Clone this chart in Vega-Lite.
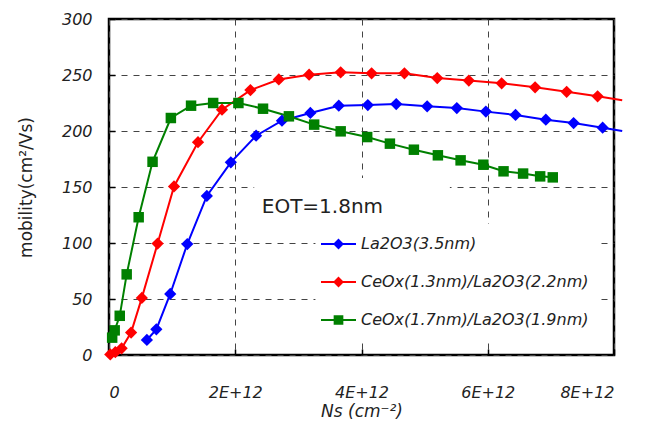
{
  "$schema": "https://vega.github.io/schema/vega-lite/v6.json",
  "width": 505,
  "height": 336,
  "autosize": {"type": "none"},
  "padding": {"left": 109, "top": 19, "right": 42, "bottom": 70},
  "background": "white",
  "config": {
    "view": {"stroke": "#000", "strokeWidth": 2.5},
    "font": "DejaVu Sans",
    "axis": {
      "grid": true, "gridColor": "#444", "gridDash": [6, 6], "gridWidth": 1,
      "domain": false, "tickColor": "#000", "tickSize": -6, "tickWidth": 1.5,
      "labelFont": "DejaVu Sans", "labelFontStyle": "italic", "labelFontSize": 16, "labelColor": "#222",
      "titleFont": "DejaVu Sans", "titleFontWeight": "normal", "titleColor": "#222", "titleFontSize": 17
    },
    "legend": {
      "orient": "none", "legendX": 211, "legendY": 206.5, "title": null, "padding": 0,
      "symbolSize": 1225, "labelFontSize": 16, "labelFontStyle": "italic", "labelFont": "DejaVu Sans", "labelColor": "#222",
      "labelOffset": 4, "rowPadding": 11, "labelLimit": 400, "symbolStrokeWidth": 2
    }
  },
  "datasets": {
    "mob": [
      {"series": "La2O3(3.5nm)", "ns": 0.60e12, "mobility": 13.4},
      {"series": "La2O3(3.5nm)", "ns": 0.75e12, "mobility": 22.9},
      {"series": "La2O3(3.5nm)", "ns": 0.97e12, "mobility": 54.5},
      {"series": "La2O3(3.5nm)", "ns": 1.24e12, "mobility": 99.1},
      {"series": "La2O3(3.5nm)", "ns": 1.55e12, "mobility": 142},
      {"series": "La2O3(3.5nm)", "ns": 1.93e12, "mobility": 172},
      {"series": "La2O3(3.5nm)", "ns": 2.33e12, "mobility": 195.8},
      {"series": "La2O3(3.5nm)", "ns": 2.74e12, "mobility": 209.2},
      {"series": "La2O3(3.5nm)", "ns": 3.19e12, "mobility": 216.1},
      {"series": "La2O3(3.5nm)", "ns": 3.64e12, "mobility": 222.6},
      {"series": "La2O3(3.5nm)", "ns": 4.10e12, "mobility": 223.2},
      {"series": "La2O3(3.5nm)", "ns": 4.55e12, "mobility": 224.1},
      {"series": "La2O3(3.5nm)", "ns": 5.04e12, "mobility": 222},
      {"series": "La2O3(3.5nm)", "ns": 5.51e12, "mobility": 220.5},
      {"series": "La2O3(3.5nm)", "ns": 5.97e12, "mobility": 217.3},
      {"series": "La2O3(3.5nm)", "ns": 6.44e12, "mobility": 214.3},
      {"series": "La2O3(3.5nm)", "ns": 6.92e12, "mobility": 210.1},
      {"series": "La2O3(3.5nm)", "ns": 7.36e12, "mobility": 207.1},
      {"series": "La2O3(3.5nm)", "ns": 7.82e12, "mobility": 203},
      {"series": "La2O3(3.5nm)", "ns": 8.13e12, "mobility": 200},
      {"series": "CeOx(1.3nm)/La2O3(2.2nm)", "ns": 0.02e12, "mobility": 0.5},
      {"series": "CeOx(1.3nm)/La2O3(2.2nm)", "ns": 0.10e12, "mobility": 2.5},
      {"series": "CeOx(1.3nm)/La2O3(2.2nm)", "ns": 0.20e12, "mobility": 6},
      {"series": "CeOx(1.3nm)/La2O3(2.2nm)", "ns": 0.35e12, "mobility": 20},
      {"series": "CeOx(1.3nm)/La2O3(2.2nm)", "ns": 0.52e12, "mobility": 51},
      {"series": "CeOx(1.3nm)/La2O3(2.2nm)", "ns": 0.77e12, "mobility": 99.5},
      {"series": "CeOx(1.3nm)/La2O3(2.2nm)", "ns": 1.03e12, "mobility": 150.5},
      {"series": "CeOx(1.3nm)/La2O3(2.2nm)", "ns": 1.41e12, "mobility": 190},
      {"series": "CeOx(1.3nm)/La2O3(2.2nm)", "ns": 1.79e12, "mobility": 219},
      {"series": "CeOx(1.3nm)/La2O3(2.2nm)", "ns": 2.24e12, "mobility": 236.5},
      {"series": "CeOx(1.3nm)/La2O3(2.2nm)", "ns": 2.69e12, "mobility": 246},
      {"series": "CeOx(1.3nm)/La2O3(2.2nm)", "ns": 3.17e12, "mobility": 250.3},
      {"series": "CeOx(1.3nm)/La2O3(2.2nm)", "ns": 3.67e12, "mobility": 252.4},
      {"series": "CeOx(1.3nm)/La2O3(2.2nm)", "ns": 4.16e12, "mobility": 251.5},
      {"series": "CeOx(1.3nm)/La2O3(2.2nm)", "ns": 4.68e12, "mobility": 251.5},
      {"series": "CeOx(1.3nm)/La2O3(2.2nm)", "ns": 5.20e12, "mobility": 247.3},
      {"series": "CeOx(1.3nm)/La2O3(2.2nm)", "ns": 5.70e12, "mobility": 245},
      {"series": "CeOx(1.3nm)/La2O3(2.2nm)", "ns": 6.22e12, "mobility": 242.6},
      {"series": "CeOx(1.3nm)/La2O3(2.2nm)", "ns": 6.75e12, "mobility": 239},
      {"series": "CeOx(1.3nm)/La2O3(2.2nm)", "ns": 7.25e12, "mobility": 235},
      {"series": "CeOx(1.3nm)/La2O3(2.2nm)", "ns": 7.74e12, "mobility": 231},
      {"series": "CeOx(1.3nm)/La2O3(2.2nm)", "ns": 8.13e12, "mobility": 227.5},
      {"series": "CeOx(1.7nm)/La2O3(1.9nm)", "ns": 0.05e12, "mobility": 15.5},
      {"series": "CeOx(1.7nm)/La2O3(1.9nm)", "ns": 0.09e12, "mobility": 22},
      {"series": "CeOx(1.7nm)/La2O3(1.9nm)", "ns": 0.17e12, "mobility": 35},
      {"series": "CeOx(1.7nm)/La2O3(1.9nm)", "ns": 0.28e12, "mobility": 72},
      {"series": "CeOx(1.7nm)/La2O3(1.9nm)", "ns": 0.47e12, "mobility": 123},
      {"series": "CeOx(1.7nm)/La2O3(1.9nm)", "ns": 0.69e12, "mobility": 172.5},
      {"series": "CeOx(1.7nm)/La2O3(1.9nm)", "ns": 0.98e12, "mobility": 211.6},
      {"series": "CeOx(1.7nm)/La2O3(1.9nm)", "ns": 1.30e12, "mobility": 222.6},
      {"series": "CeOx(1.7nm)/La2O3(1.9nm)", "ns": 1.65e12, "mobility": 225},
      {"series": "CeOx(1.7nm)/La2O3(1.9nm)", "ns": 2.05e12, "mobility": 225},
      {"series": "CeOx(1.7nm)/La2O3(1.9nm)", "ns": 2.44e12, "mobility": 219.9},
      {"series": "CeOx(1.7nm)/La2O3(1.9nm)", "ns": 2.85e12, "mobility": 213.1},
      {"series": "CeOx(1.7nm)/La2O3(1.9nm)", "ns": 3.25e12, "mobility": 205.7},
      {"series": "CeOx(1.7nm)/La2O3(1.9nm)", "ns": 3.67e12, "mobility": 199.7},
      {"series": "CeOx(1.7nm)/La2O3(1.9nm)", "ns": 4.09e12, "mobility": 194.6},
      {"series": "CeOx(1.7nm)/La2O3(1.9nm)", "ns": 4.45e12, "mobility": 188.7},
      {"series": "CeOx(1.7nm)/La2O3(1.9nm)", "ns": 4.83e12, "mobility": 183.3},
      {"series": "CeOx(1.7nm)/La2O3(1.9nm)", "ns": 5.21e12, "mobility": 178.3},
      {"series": "CeOx(1.7nm)/La2O3(1.9nm)", "ns": 5.57e12, "mobility": 173.8},
      {"series": "CeOx(1.7nm)/La2O3(1.9nm)", "ns": 5.93e12, "mobility": 169.9},
      {"series": "CeOx(1.7nm)/La2O3(1.9nm)", "ns": 6.25e12, "mobility": 164},
      {"series": "CeOx(1.7nm)/La2O3(1.9nm)", "ns": 6.56e12, "mobility": 162},
      {"series": "CeOx(1.7nm)/La2O3(1.9nm)", "ns": 6.83e12, "mobility": 159.5},
      {"series": "CeOx(1.7nm)/La2O3(1.9nm)", "ns": 7.03e12, "mobility": 158.6}
    ],
    "one": [{}]
  },
  "layer": [
    {
      "data": {"name": "mob"},
      "transform": [{"filter": "datum.ns <= 8e12"}],
      "mark": {"type": "point", "filled": true, "size": 1, "opacity": 1, "strokeWidth": 2},
      "encoding": {
        "x": {"field": "ns", "type": "quantitative", "scale": {"domain": [0, 8e12], "nice": false, "zero": false},
          "axis": {"values": [0, 2e12, 4e12, 6e12, 8e12], "labelExpr": "datum.value == 0 ? '0' : format(datum.value/1e12,'d') + 'E+12'", "labelPadding": 35, "title": "Ns (cm⁻²)", "titleFontStyle": "italic", "titlePadding": 3}},
        "y": {"field": "mobility", "type": "quantitative", "scale": {"domain": [0, 300], "nice": false},
          "axis": {"values": [0, 50, 100, 150, 200, 250, 300], "labelPadding": 23, "title": "mobility(cm²/Vs)", "titlePadding": 26}},
        "fill": {"field": "series", "type": "nominal",
          "scale": {"domain": ["La2O3(3.5nm)", "CeOx(1.3nm)/La2O3(2.2nm)", "CeOx(1.7nm)/La2O3(1.9nm)"], "range": ["#0000ff", "#ff0000", "#008000"]},
          "legend": {}},
        "stroke": {"field": "series", "type": "nominal",
          "scale": {"domain": ["La2O3(3.5nm)", "CeOx(1.3nm)/La2O3(2.2nm)", "CeOx(1.7nm)/La2O3(1.9nm)"], "range": ["#0000ff", "#ff0000", "#008000"]},
          "legend": {}},
        "shape": {"field": "series", "type": "nominal",
          "scale": {"domain": ["La2O3(3.5nm)", "CeOx(1.3nm)/La2O3(2.2nm)", "CeOx(1.7nm)/La2O3(1.9nm)"],
            "range": ["M-1,0H1M0,-0.23L0.23,0L0,0.23L-0.23,0Z", "M-1,0H1M0,-0.23L0.23,0L0,0.23L-0.23,0Z", "M-1,0H1M-0.22,-0.22H0.22V0.22H-0.22Z"]},
          "legend": {}}
      }
    },
    {
      "data": {"name": "one"},
      "mark": {"type": "rect", "color": "white"},
      "encoding": {
        "x": {"datum": 2.3e12, "type": "quantitative"},
        "x2": {"datum": 5.4e12},
        "y": {"datum": 117, "type": "quantitative"},
        "y2": {"datum": 158}
      }
    },
    {
      "data": {"name": "one"},
      "mark": {"type": "rect", "color": "white"},
      "encoding": {
        "x": {"datum": 3.27e12, "type": "quantitative"},
        "x2": {"datum": 7.78e12},
        "y": {"datum": 11.6, "type": "quantitative"},
        "y2": {"datum": 117}
      }
    },
    {
      "data": {"name": "one"},
      "mark": {"type": "text", "text": "EOT=1.8nm", "align": "left", "baseline": "alphabetic", "fontSize": 20, "color": "#222", "font": "DejaVu Sans"},
      "encoding": {
        "x": {"datum": 2.42e12, "type": "quantitative"},
        "y": {"datum": 127, "type": "quantitative"}
      }
    },
    {
      "data": {"name": "mob"},
      "mark": {"type": "line", "strokeWidth": 2, "clip": false},
      "encoding": {
        "x": {"field": "ns", "type": "quantitative"},
        "y": {"field": "mobility", "type": "quantitative"},
        "color": {"field": "series", "type": "nominal",
          "scale": {"domain": ["La2O3(3.5nm)", "CeOx(1.3nm)/La2O3(2.2nm)", "CeOx(1.7nm)/La2O3(1.9nm)"], "range": ["#0000ff", "#ff0000", "#008000"]},
          "legend": null}
      }
    },
    {
      "data": {"name": "mob"},
      "transform": [{"filter": "datum.ns <= 8e12 && datum.series != 'CeOx(1.7nm)/La2O3(1.9nm)'"}],
      "mark": {"type": "point", "filled": true, "size": 150, "opacity": 1, "shape": "diamond"},
      "encoding": {
        "x": {"field": "ns", "type": "quantitative"},
        "y": {"field": "mobility", "type": "quantitative"},
        "color": {"field": "series", "type": "nominal", "legend": null}
      }
    },
    {
      "data": {"name": "mob"},
      "transform": [{"filter": "datum.series == 'CeOx(1.7nm)/La2O3(1.9nm)'"}],
      "mark": {"type": "point", "filled": true, "size": 110, "opacity": 1, "shape": "square"},
      "encoding": {
        "x": {"field": "ns", "type": "quantitative"},
        "y": {"field": "mobility", "type": "quantitative"},
        "color": {"field": "series", "type": "nominal", "legend": null}
      }
    }
  ]
}
